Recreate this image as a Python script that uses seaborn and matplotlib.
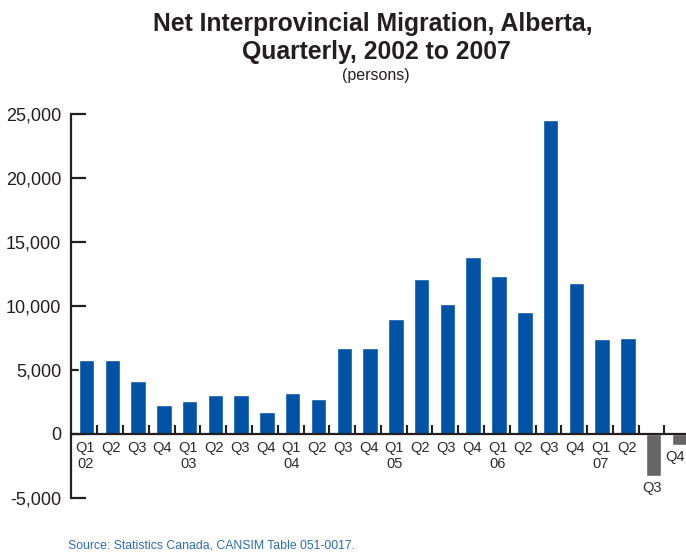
import matplotlib
matplotlib.use("Agg")
import matplotlib.pyplot as plt
import matplotlib.ticker as mticker
import pandas as pd
import seaborn as sns

# Quarterly net interprovincial migration into Alberta (persons)
years = ["02", "03", "04", "05", "06", "07"]
quarters = ["Q1", "Q2", "Q3", "Q4"]
net_migration = [
    5750, 5750, 4100, 2220,      # 2002
    2530, 3000, 3000, 1670,      # 2003
    3160, 2690, 6690, 6690,      # 2004
    8960, 12090, 10130, 13820,   # 2005
    12330, 9510, 24550, 11780,   # 2006
    7390, 7470, -3320, -890,     # 2007
]
y_ticks = [-5000, 0, 5000, 10000, 15000, 20000, 25000]

TEXT = "#231f20"
BLUE = "#0253a5"
GREY = "#666666"

periods = [f"{q} {y}" for y in years for q in quarters]
df = pd.DataFrame({"period": periods, "persons": net_migration})
palette = {p: (BLUE if v >= 0 else GREY) for p, v in zip(periods, net_migration)}

sns.set_theme(style="white")
plt.rcParams["font.family"] = ["Liberation Sans", "DejaVu Sans"]
plt.rcParams["text.color"] = TEXT

fig = plt.figure(figsize=(6.86, 5.52), dpi=100)
ax = fig.add_axes([71 / 686, 54.3 / 552, 1 - 71 / 686, 383.4 / 552])

sns.barplot(data=df, x="period", y="persons", hue="period", palette=palette,
            dodge=False, legend=False, width=0.6, saturation=1, ax=ax)

ax.set_xlim(-0.601, 23.254)
ax.set_ylim(y_ticks[0], y_ticks[-1])
ax.set_xlabel("")
ax.set_ylabel("")

# Axes: left spine with inward ticks, baseline at zero
for side in ("top", "right"):
    ax.spines[side].set_visible(False)
ax.spines["left"].set_color(TEXT)
ax.spines["left"].set_linewidth(1.6)
ax.spines["bottom"].set_position(("data", 0))
ax.spines["bottom"].set_color(TEXT)
ax.spines["bottom"].set_linewidth(1.6)

ax.set_yticks(y_ticks)
ax.yaxis.set_major_formatter(mticker.FuncFormatter(lambda v, _: f"{v:,.0f}"))
ax.tick_params(axis="y", direction="in", length=11, width=1.6, color=TEXT,
               labelsize=13, labelcolor=TEXT, pad=7, left=True)

ax.set_xticks([])
ax.set_xticks([i + 0.42 for i in range(len(periods) - 1)], minor=True)
ax.tick_params(axis="x", which="minor", direction="in", length=6.5, width=1.5,
               color=TEXT, bottom=True, labelbottom=False)

# Quarter labels below each bar (below the bar end for negative values)
last = len(net_migration) - 1
for i, v in enumerate(net_migration):
    q = quarters[i % 4]
    label = q if i % 4 else f"{q}\n{years[i // 4]}"
    off_y = -5.5 if v >= 0 else -3.5
    off_x = -3.2 if i == last else -1.0   # keep the final label inside the frame
    ax.annotate(label, xy=(i, min(v, 0)), xytext=(off_x, off_y),
                textcoords="offset points", ha="center", va="top",
                fontsize=10.5, color="#2b2b2b", linespacing=1.1,
                annotation_clip=False)

fig.text(373 / 686, 1 - 31.5 / 552, "Net Interprovincial Migration, Alberta,",
         ha="center", va="baseline", fontsize=17.8, fontweight="bold", color=TEXT)
fig.text(376 / 686, 1 - 58.5 / 552, "Quarterly, 2002 to 2007",
         ha="center", va="baseline", fontsize=17.8, fontweight="bold", color=TEXT)
fig.text(376 / 686, 1 - 80 / 552, "(persons)",
         ha="center", va="baseline", fontsize=11.5, color=TEXT)

fig.text(68 / 686, 1 - 548 / 552, "Source: Statistics Canada, CANSIM Table 051-0017.",
         ha="left", va="baseline", fontsize=8.8, color="#2c6cb8")

fig.savefig("out.png", dpi=100)
